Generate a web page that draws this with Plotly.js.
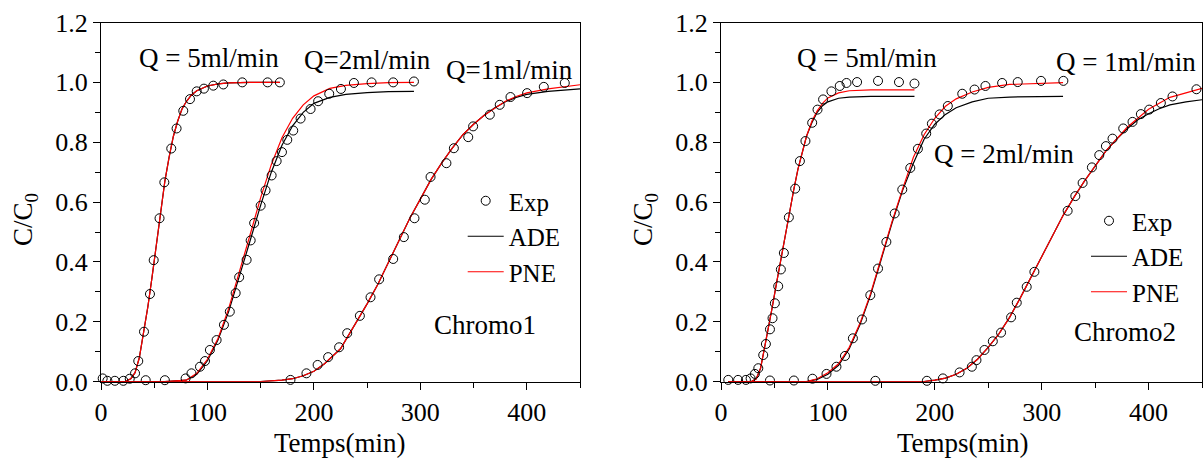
<!DOCTYPE html>
<html>
<head>
<meta charset="utf-8">
<script src="https://cdn.plot.ly/plotly-3.0.1.min.js"></script>
<style>html,body{margin:0;padding:0;background:#fff;}#chart{width:1203px;height:461px;}</style>
</head>
<body>
<div id="chart"></div>
<script>
// ---------- Chromo1 (left panel) ----------
const c1_q5_exp_t = [1.6, 6, 13, 21, 27, 32, 35, 40.4, 46, 49.5, 55, 59.5, 66, 71, 77.3, 83.6, 89.9, 96.7, 105.5, 114.9, 132.7, 156.5, 168];
const c1_q5_exp_c = [0.011, 0.003, 0.003, 0.003, 0.01, 0.028, 0.069, 0.167, 0.293, 0.406, 0.546, 0.666, 0.779, 0.846, 0.905, 0.944, 0.97, 0.979, 0.989, 0.993, 1.0, 1.0, 1.0];
const c1_q5_fit_t = [0, 22, 28, 32, 36, 40, 44, 48, 52, 56, 60, 64, 68, 72, 76, 80, 85, 90, 100, 110, 120, 140, 168];
const c1_q5_ade = [0, 0, 0.01, 0.03, 0.08, 0.16, 0.25, 0.35, 0.46, 0.57, 0.67, 0.75, 0.82, 0.87, 0.91, 0.935, 0.958, 0.972, 0.988, 0.995, 0.998, 1.0, 1.0];
const c1_q5_pne = [0, 0, 0.01, 0.03, 0.08, 0.16, 0.25, 0.35, 0.46, 0.57, 0.67, 0.75, 0.82, 0.87, 0.91, 0.935, 0.958, 0.972, 0.988, 0.995, 0.998, 1.0, 1.0];

const c1_q2_exp_t = [42, 60, 79.5, 85, 93, 97.7, 102.3, 108.6, 115.5, 121, 126.5, 129.8, 136.8, 140.6, 143.9, 150, 154.6, 160.3, 165, 170, 175, 180.6, 187.5, 196.9, 204, 214.4, 225.4, 237.6, 254.2, 274.5, 294];
const c1_q2_exp_c = [0.005, 0.005, 0.011, 0.028, 0.05, 0.069, 0.106, 0.139, 0.19, 0.234, 0.296, 0.349, 0.407, 0.472, 0.53, 0.588, 0.639, 0.689, 0.737, 0.767, 0.808, 0.839, 0.879, 0.911, 0.937, 0.962, 0.978, 0.998, 1.0, 1.0, 1.003];
const c1_q2_fit_t = [0, 60, 80, 90, 100, 110, 120, 130, 140, 150, 160, 170, 180, 190, 200, 215, 230, 250, 270, 294];
const c1_q2_ade = [0, 0, 0.005, 0.025, 0.07, 0.14, 0.235, 0.35, 0.47, 0.59, 0.70, 0.79, 0.855, 0.90, 0.93, 0.95, 0.96, 0.966, 0.969, 0.97];
const c1_q2_pne = [0, 0, 0.005, 0.028, 0.075, 0.145, 0.245, 0.365, 0.49, 0.615, 0.725, 0.815, 0.88, 0.925, 0.955, 0.98, 0.99, 0.996, 0.999, 1.0];

const c1_q1_exp_t = [178, 193, 203.5, 213.4, 223.7, 231.3, 243.2, 253.2, 261.3, 274.5, 284.5, 294.5, 304.2, 309.6, 324.5, 331.5, 345, 349.6, 365.3, 374.6, 384.7, 400.3, 416, 435.7];
const c1_q1_exp_c = [0.006, 0.028, 0.056, 0.082, 0.115, 0.162, 0.22, 0.282, 0.342, 0.41, 0.483, 0.546, 0.608, 0.684, 0.73, 0.78, 0.817, 0.853, 0.892, 0.925, 0.951, 0.964, 0.985, 0.998];
const c1_q1_fit_t = [0, 150, 170, 180, 190, 200, 210, 225, 240, 250, 260, 270, 280, 290, 300, 310, 320, 330, 340, 350, 360, 370, 380, 390, 400, 420, 450];
const c1_q1_ade = [0, 0, 0.005, 0.01, 0.02, 0.035, 0.06, 0.11, 0.2, 0.26, 0.325, 0.4, 0.475, 0.545, 0.61, 0.675, 0.73, 0.78, 0.825, 0.86, 0.89, 0.915, 0.935, 0.95, 0.96, 0.97, 0.978];
const c1_q1_pne = [0, 0, 0.005, 0.01, 0.02, 0.035, 0.06, 0.11, 0.2, 0.26, 0.325, 0.4, 0.475, 0.545, 0.61, 0.675, 0.73, 0.78, 0.825, 0.86, 0.89, 0.915, 0.937, 0.953, 0.965, 0.978, 0.992];

// ---------- Chromo2 (right panel) ----------
const c2_q5_exp_t = [6.8, 16, 23.3, 27.7, 31.7, 34.9, 39.5, 42, 45.8, 48.2, 50.4, 53.5, 56, 58.8, 63.5, 69.4, 73.8, 79, 85.3, 90.3, 95.5, 103.3, 111.1, 117.4, 127.3, 146.9, 166.5, 181];
const c2_q5_exp_c = [0.006, 0.006, 0.006, 0.011, 0.026, 0.045, 0.089, 0.126, 0.175, 0.212, 0.262, 0.319, 0.375, 0.43, 0.549, 0.645, 0.737, 0.804, 0.865, 0.909, 0.943, 0.97, 0.988, 0.998, 1.001, 1.005, 1.001, 0.996];
const c2_q5_fit_t = [7, 28, 33, 37, 40, 44, 48, 52, 56, 60, 64, 68, 72, 76, 80, 85, 90, 95, 100, 110, 120, 140, 181];
const c2_q5_ade = [0, 0, 0.01, 0.045, 0.1, 0.17, 0.25, 0.33, 0.41, 0.49, 0.57, 0.64, 0.71, 0.77, 0.82, 0.865, 0.9, 0.922, 0.935, 0.947, 0.951, 0.953, 0.953];
const c2_q5_pne = [0, 0, 0.01, 0.045, 0.1, 0.17, 0.25, 0.33, 0.41, 0.49, 0.57, 0.64, 0.71, 0.77, 0.82, 0.87, 0.905, 0.93, 0.948, 0.965, 0.972, 0.975, 0.975];

const c2_q2_exp_t = [45.8, 68.2, 85.6, 98.7, 108, 116, 123.4, 131.9, 139.7, 146.9, 154.7, 162.5, 169.6, 177.1, 184.2, 192, 197.3, 204.5, 212.2, 225.7, 237.2, 247.4, 263, 277.6, 299.4, 320.3];
const c2_q2_exp_c = [0.004, 0.004, 0.01, 0.026, 0.05, 0.086, 0.145, 0.208, 0.289, 0.378, 0.467, 0.562, 0.642, 0.714, 0.778, 0.829, 0.862, 0.893, 0.921, 0.962, 0.976, 0.988, 0.998, 1.001, 1.005, 1.005];
const c2_q2_fit_t = [7, 80, 90, 100, 110, 120, 130, 140, 150, 160, 170, 180, 190, 200, 210, 220, 235, 250, 270, 320];
const c2_q2_ade = [0, 0, 0.008, 0.025, 0.055, 0.11, 0.19, 0.29, 0.41, 0.53, 0.64, 0.73, 0.81, 0.86, 0.893, 0.915, 0.935, 0.947, 0.951, 0.953];
const c2_q2_pne = [0, 0, 0.01, 0.03, 0.06, 0.115, 0.195, 0.295, 0.415, 0.535, 0.645, 0.75, 0.825, 0.88, 0.92, 0.945, 0.968, 0.983, 0.993, 0.999];

const c2_q1_exp_t = [144.4, 192.6, 207.6, 223.2, 234.7, 239, 246.5, 254.3, 262, 271.4, 276.7, 286, 293.2, 324.3, 331.5, 338.3, 347, 353.9, 360.1, 366.3, 376.3, 385, 392.8, 400.6, 411.5, 422.4, 444.8];
const c2_q1_exp_c = [0.003, 0.003, 0.011, 0.031, 0.05, 0.072, 0.106, 0.135, 0.164, 0.215, 0.264, 0.317, 0.367, 0.571, 0.62, 0.664, 0.716, 0.757, 0.787, 0.812, 0.846, 0.868, 0.894, 0.909, 0.931, 0.953, 0.977];
const c2_q1_fit_t = [7, 190, 200, 210, 220, 230, 240, 250, 260, 270, 280, 290, 300, 310, 320, 330, 340, 350, 360, 370, 380, 390, 400, 410, 420, 435, 450];
const c2_q1_ade = [0, 0, 0.005, 0.012, 0.025, 0.045, 0.075, 0.115, 0.16, 0.215, 0.28, 0.35, 0.42, 0.49, 0.555, 0.615, 0.67, 0.72, 0.77, 0.81, 0.845, 0.875, 0.895, 0.912, 0.925, 0.935, 0.942];
const c2_q1_pne = [0, 0, 0.005, 0.012, 0.025, 0.045, 0.075, 0.115, 0.16, 0.215, 0.28, 0.35, 0.42, 0.49, 0.555, 0.615, 0.67, 0.72, 0.77, 0.81, 0.85, 0.88, 0.91, 0.93, 0.95, 0.965, 0.98];

const seriesNames = ['Exp', 'ADE', 'PNE'];
const panelLabels = ['Chromo1', 'Chromo2'];
const flowLabels1 = ['Q = 5ml/min', 'Q=2ml/min', 'Q=1ml/min'];
const flowLabels2 = ['Q = 5ml/min', 'Q = 2ml/min', 'Q = 1ml/min'];
const xTitle = 'Temps(min)';
const yTitle = 'C/C<sub>0</sub>';

const FONT = 'Liberation Serif';

function panel(xa, ya, legendId, sets) {
  const tr = [];
  sets.forEach((s, i) => {
    tr.push({x: s.ft, y: s.ade, xaxis: xa, yaxis: ya, mode: 'lines', name: seriesNames[1],
      line: {color: '#000', width: 1.2}, legend: legendId, showlegend: i === 0, legendrank: 2});
    tr.push({x: s.ft, y: s.pne, xaxis: xa, yaxis: ya, mode: 'lines', name: seriesNames[2],
      line: {color: '#ff0000', width: 1.2}, legend: legendId, showlegend: i === 0, legendrank: 3});
    tr.push({x: s.et, y: s.ec, xaxis: xa, yaxis: ya, mode: 'markers', name: seriesNames[0],
      marker: {symbol: 'circle-open', size: 9, color: '#000', line: {width: 1, color: '#000'}},
      cliponaxis: false, legend: legendId, showlegend: i === 0, legendrank: 1});
  });
  return tr;
}

const data = [].concat(
  panel('x', 'y', 'legend', [
    {ft: c1_q5_fit_t, ade: c1_q5_ade, pne: c1_q5_pne, et: c1_q5_exp_t, ec: c1_q5_exp_c},
    {ft: c1_q2_fit_t, ade: c1_q2_ade, pne: c1_q2_pne, et: c1_q2_exp_t, ec: c1_q2_exp_c},
    {ft: c1_q1_fit_t, ade: c1_q1_ade, pne: c1_q1_pne, et: c1_q1_exp_t, ec: c1_q1_exp_c}
  ]),
  panel('x2', 'y2', 'legend2', [
    {ft: c2_q5_fit_t, ade: c2_q5_ade, pne: c2_q5_pne, et: c2_q5_exp_t, ec: c2_q5_exp_c},
    {ft: c2_q2_fit_t, ade: c2_q2_ade, pne: c2_q2_pne, et: c2_q2_exp_t, ec: c2_q2_exp_c},
    {ft: c2_q1_fit_t, ade: c2_q1_ade, pne: c2_q1_pne, et: c2_q1_exp_t, ec: c2_q1_exp_c}
  ])
);

function xAxis(domain, anchor) {
  return {domain: domain, anchor: anchor, range: [0, 450], showgrid: false, zeroline: false,
    showline: true, linecolor: '#000', linewidth: 1, mirror: true,
    ticks: 'outside', ticklen: 7, tickwidth: 1, tickcolor: '#000', dtick: 100, tick0: 0,
    minor: {dtick: 50, tick0: 0, ticks: 'outside', ticklen: 5, tickwidth: 1, tickcolor: '#000', showgrid: false},
    tickfont: {family: FONT, size: 26, color: '#000'}, fixedrange: true};
}
function yAxis(domain, anchor) {
  return {domain: domain, anchor: anchor, range: [0, 1.2], showgrid: false, zeroline: false,
    showline: true, linecolor: '#000', linewidth: 1, mirror: true,
    ticks: 'outside', ticklen: 7, tickwidth: 1, tickcolor: '#000', dtick: 0.2, tick0: 0, tickformat: '.1f',
    minor: {dtick: 0.1, tick0: 0, ticks: 'outside', ticklen: 5, tickwidth: 1, tickcolor: '#000', showgrid: false},
    tickfont: {family: FONT, size: 26, color: '#000'}, fixedrange: true};
}

const yDom = [1 - 381.7 / 461, 1 - 22.5 / 461];
const txt = (x, y, xref, yref, text, extra) => Object.assign({x: x, y: y, xref: xref, yref: yref, text: text,
  showarrow: false, font: {family: FONT, size: 27, color: '#000'}, xanchor: 'center', yanchor: 'middle'}, extra || {});

const layout = {
  width: 1203, height: 461,
  margin: {l: 0, r: 0, t: 0, b: 0},
  font: {family: FONT, color: '#000'},
  paper_bgcolor: '#fff', plot_bgcolor: '#fff',
  xaxis: xAxis([101 / 1203, 580 / 1203], 'y'),
  yaxis: yAxis(yDom, 'x'),
  xaxis2: xAxis([721 / 1203, 1202 / 1203], 'y2'),
  yaxis2: yAxis(yDom, 'x2'),
  legend: {x: 462.7 / 1203, y: 1 - 178 / 461, xanchor: 'left', yanchor: 'top', bgcolor: 'rgba(0,0,0,0)',
    font: {family: FONT, size: 25, color: '#000'}, tracegroupgap: 0, itemclick: false, itemwidth: 36},
  legend2: {x: 1086 / 1203, y: 1 - 198 / 461, xanchor: 'left', yanchor: 'top', bgcolor: 'rgba(0,0,0,0)',
    font: {family: FONT, size: 25, color: '#000'}, tracegroupgap: 0, itemclick: false, itemwidth: 36},
  annotations: [
    txt(101, 1.083, 'x', 'y', flowLabels1[0]),
    txt(250.2, 1.076, 'x', 'y', flowLabels1[1]),
    txt(384, 1.042, 'x', 'y', flowLabels1[2]),
    txt(360.6, 0.19, 'x', 'y', panelLabels[0]),
    txt(136.3, 1.08, 'x2', 'y2', flowLabels2[0]),
    txt(265.2, 0.762, 'x2', 'y2', flowLabels2[1]),
    txt(379, 1.068, 'x2', 'y2', flowLabels2[2]),
    txt(378.2, 0.167, 'x2', 'y2', panelLabels[1]),
    txt(340 / 1203, 1 - 443 / 461, 'paper', 'paper', xTitle),
    txt(963 / 1203, 1 - 443 / 461, 'paper', 'paper', xTitle),
    txt(25 / 1203, 1 - 220 / 461, 'paper', 'paper', yTitle, {textangle: -90}),
    txt(645 / 1203, 1 - 220 / 461, 'paper', 'paper', yTitle, {textangle: -90})
  ]
};

Plotly.newPlot('chart', data, layout, {staticPlot: true, displayModeBar: false});
</script>
</body>
</html>
